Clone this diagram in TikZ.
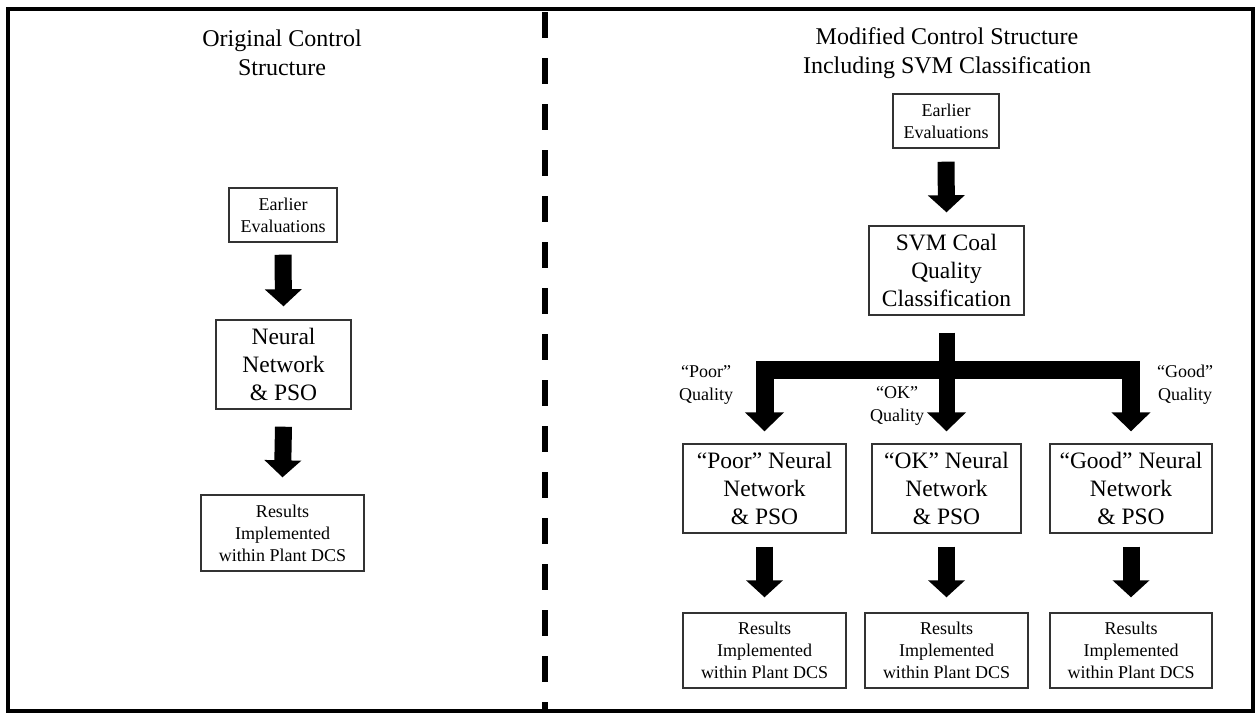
\documentclass[tikz,border=0pt]{standalone}
\usepackage{fontspec}
\setmainfont{Liberation Serif}
\usetikzlibrary{arrows.meta,calc}
\begin{document}
\begin{tikzpicture}[x=1pt,y=-1pt,
  box/.style={draw=black!80,line width=1.4pt,inner sep=0pt,align=center,text=black},
  bigbox/.style={box,font=\fontsize{23.5}{28}\selectfont,minimum height=89pt},
  smallbox/.style={box,font=\fontsize{18}{22}\selectfont},
  title/.style={align=center,font=\fontsize{24}{29}\selectfont},
  qlabel/.style={align=center,font=\fontsize{18}{23}\selectfont},
  fatarrow/.style={line width=17pt,line cap=butt,-{Triangle[width=36pt,length=17pt]}},
  fatline/.style={line width=18pt,line cap=butt,line join=miter,-{Triangle[width=38pt,length=19pt]}}]
\useasboundingbox (0,0) rectangle (1260,716);
\fill[white] (0,0) rectangle (1260,716);
% frame and divider
\draw[line width=4.5pt] (8,9) rectangle (1253,711);
\coordinate (dtop) at (545,12);
\coordinate (dbot) at (545,711);
\draw[line width=6pt,dash pattern=on 26pt off 20pt] (dtop) -- (dbot);
% titles
\node[title] (tL) at (282,53) {Original Control\\Structure};
\node[title] (tR) at (947,53) {Modified Control Structure\\Including SVM Classification};
% left column
\node[smallbox,minimum width=108pt,minimum height=54pt] (eL) at (283,215) {Earlier\\Evaluations};
\node[bigbox,minimum width=135pt] (nnL) at (283.5,364.5) {Neural\\Network\\\& PSO};
\node[smallbox,minimum width=163pt,minimum height=76pt] (rL) at (282.5,533) {Results\\Implemented\\within Plant DCS};
\draw[fatarrow] ($(eL.south)+(0,12)$) -- ($(nnL.north)+(0,-13)$);
\draw[fatarrow] ($(nnL.south)+(0,17)$) -- ($(rL.north)+(0,-17)$);
% right column
\node[smallbox,minimum width=106pt,minimum height=54pt] (eR) at (946,121) {Earlier\\Evaluations};
\node[bigbox,minimum width=155pt] (svm) at (946.5,270.5) {SVM Coal\\Quality\\Classification};
\node[bigbox,minimum width=163pt] (poor) at (764.5,488.5) {“Poor” Neural\\Network\\\& PSO};
\node[bigbox,minimum width=149pt] (ok) at (946.5,488.5) {“OK” Neural\\Network\\\& PSO};
\node[bigbox,minimum width=162pt] (good) at (1131,488.5) {“Good” Neural\\Network\\\& PSO};
\node[smallbox,minimum width=163pt,minimum height=75pt] (rP) at (764.5,650.5) {Results\\Implemented\\within Plant DCS};
\node[smallbox,minimum width=163pt,minimum height=75pt] (rO) at (946.5,650.5) {Results\\Implemented\\within Plant DCS};
\node[smallbox,minimum width=162pt,minimum height=75pt] (rG) at (1131,650.5) {Results\\Implemented\\within Plant DCS};
\draw[fatarrow] ($(eR.south)+(0,13)$) -- ($(svm.north)+(0,-13)$);
% branching arrow
\coordinate (stem) at ($(svm.south)+(0,17)$);
\coordinate (bar) at ($(svm.south)+(0,54)$);
\draw[fatline,line width=16pt] (stem) -- ($(ok.north)+(0,-12)$);
\draw[fatline] (bar) -| ($(poor.north)+(0,-12)$);
\draw[fatline] (bar) -| ($(good.north)+(0,-12)$);
\node[qlabel] (lp) at (706,385) {“Poor”\\Quality};
\node[qlabel] (lo) at (897,406) {“OK”\\Quality};
\node[qlabel] (lg) at (1185,385) {“Good”\\Quality};
\draw[fatarrow] ($(poor.south)+(0,13)$) -- ($(rP.north)+(0,-15)$);
\draw[fatarrow] ($(ok.south)+(0,13)$) -- ($(rO.north)+(0,-15)$);
\draw[fatarrow] ($(good.south)+(0,13)$) -- ($(rG.north)+(0,-15)$);
\end{tikzpicture}
\end{document}
